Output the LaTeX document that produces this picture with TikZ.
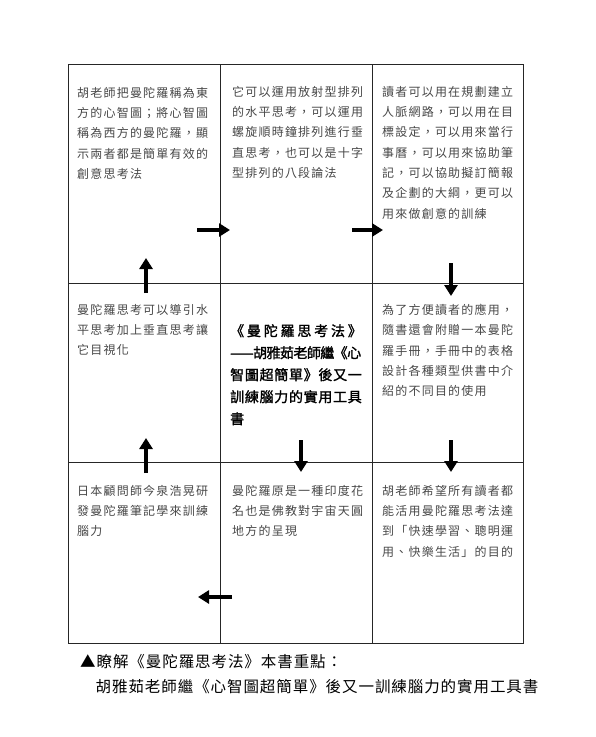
\documentclass[tikz,border=0pt]{standalone}
\usepackage{fontspec}
\setmainfont{Noto Sans CJK TC}
\newfontfamily\cellfont[LetterSpace=10]{Noto Sans CJK TC}
\newfontfamily\centerfont[LetterSpace=5,FakeBold=1.6]{Noto Sans CJK TC}
\newfontfamily\capfont[LetterSpace=6]{Noto Sans CJK TC}
\usetikzlibrary{arrows.meta,calc}
\begin{document}
\begin{tikzpicture}[x=1pt,y=-1pt,
  cell/.style={draw=black!85,line width=0.9pt,anchor=north west,inner sep=0pt,outer sep=0pt},
  celltext/.style={anchor=north west,inner sep=0pt,align=left,text=black!72,font=\cellfont\fontsize{12}{20.3}\selectfont},
  ctext/.style={anchor=north west,inner sep=0pt,align=left,text=black,font=\centerfont\fontsize{14}{22}\selectfont},
  captext/.style={anchor=north west,inner sep=0pt,align=left,text=black,font=\capfont\fontsize{15.5}{25}\selectfont},
  arr/.style={line width=4.5pt,-{Triangle[length=11pt,width=13pt]}},
  ]
\useasboundingbox (0,0) rectangle (595,737);
% grid cells
\node[cell,minimum width=152pt,minimum height=219pt] (c11) at (68,64) {};
\node[cell,minimum width=152pt,minimum height=219pt] (c12) at (220,64) {};
\node[cell,minimum width=151pt,minimum height=219pt] (c13) at (372,64) {};
\node[cell,minimum width=152pt,minimum height=179pt] (c21) at (68,283) {};
\node[cell,minimum width=152pt,minimum height=179pt] (c22) at (220,283) {};
\node[cell,minimum width=151pt,minimum height=179pt] (c23) at (372,283) {};
\node[cell,minimum width=152pt,minimum height=181pt] (c31) at (68,462) {};
\node[cell,minimum width=152pt,minimum height=181pt] (c32) at (220,462) {};
\node[cell,minimum width=151pt,minimum height=181pt] (c33) at (372,462) {};
% texts
\node[celltext] (t11) at ($(c11.north west)+(9,23)$) {胡老師把曼陀羅稱為東\\方的心智圖；將心智圖\\稱為西方的曼陀羅，顯\\示兩者都是簡單有效的\\創意思考法};
\node[celltext] (t12) at ($(c12.north west)+(12,22)$) {它可以運用放射型排列\\的水平思考，可以運用\\螺旋順時鐘排列進行垂\\直思考，也可以是十字\\型排列的八段論法};
\node[celltext] (t13) at ($(c13.north west)+(10,22)$) {讀者可以用在規劃建立\\人脈網路，可以用在目\\標設定，可以用來當行\\事曆，可以用來協助筆\\記，可以協助擬訂簡報\\及企劃的大綱，更可以\\用來做創意的訓練};
\node[celltext] (t21) at ($(c21.north west)+(9,21)$) {曼陀羅思考可以導引水\\平思考加上垂直思考讓\\它目視化};
\node[ctext] (t22) at ($(c22.north west)+(10,41)$) {{\addfontfeatures{LetterSpace=20}《曼陀羅思考法》}\\{\addfontfeatures{LetterSpace=-4}——胡雅茹老師繼《心}\\智圖超簡單》後又一\\訓練腦力的實用工具\\書};
\node[celltext] (t23) at ($(c23.north west)+(10,21)$) {為了方便讀者的應用，\\隨書還會附贈一本曼陀\\羅手冊，手冊中的表格\\設計各種類型供書中介\\紹的不同目的使用};
\node[celltext] (t31) at ($(c31.north west)+(9,23)$) {日本顧問師今泉浩晃研\\發曼陀羅筆記學來訓練\\腦力};
\node[celltext] (t32) at ($(c32.north west)+(12,23)$) {曼陀羅原是一種印度花\\名也是佛教對宇宙天圓\\地方的呈現};
\node[celltext] (t33) at ($(c33.north west)+(10,23)$) {胡老師希望所有讀者都\\能活用曼陀羅思考法達\\到「快速學習、聰明運\\用、快樂生活」的目的};
% caption
\node[captext] (cap) at (80,654) {▲瞭解《曼陀羅思考法》本書重點：\\\phantom{▲}胡雅茹老師繼《心智圖超簡單》後又一訓練腦力的實用工具書};
% arrow end points
\coordinate (a1s) at (197,230); \coordinate (a1e) at (230,230);
\coordinate (a2s) at (352,230); \coordinate (a2e) at (383,230);
\coordinate (a3s) at (451,263); \coordinate (a3e) at (451,296);
\coordinate (a4s) at (451,440); \coordinate (a4e) at (451,472);
\coordinate (a5s) at (301,440); \coordinate (a5e) at (301,472);
\coordinate (a6s) at (146,293); \coordinate (a6e) at (146,258);
\coordinate (a7s) at (146,473); \coordinate (a7e) at (146,438);
\coordinate (a8s) at (232,597); \coordinate (a8e) at (198,597);
\draw[arr] (a1s) -- (a1e);
\draw[arr] (a2s) -- (a2e);
\draw[arr] (a3s) -- (a3e);
\draw[arr] (a4s) -- (a4e);
\draw[arr] (a5s) -- (a5e);
\draw[arr] (a6s) -- (a6e);
\draw[arr] (a7s) -- (a7e);
\draw[arr] (a8s) -- (a8e);
\end{tikzpicture}
\end{document}
